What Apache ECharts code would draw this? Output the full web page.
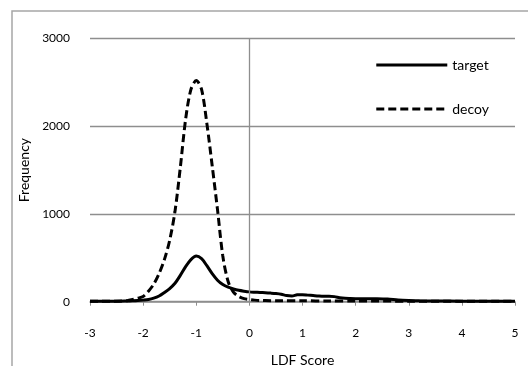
<!DOCTYPE html>
<html><head><meta charset="utf-8">
<script src="https://cdn.jsdelivr.net/npm/echarts@6/dist/echarts.min.js"></script>
<style>html,body{margin:0;padding:0;background:#fff}#c{width:528px;height:366px}</style>
</head><body><div id="c"></div>
<script>
var xTicks = [-3, -2, -1, 0, 1, 2, 3, 4, 5];
var yTicks = [0, 1000, 2000, 3000];
var targetX = [-3.0,-2.5,-2.3,-2.2,-2.1,-2.0,-1.9,-1.8,-1.7,-1.6,-1.5,-1.4,-1.3,-1.2,-1.1,-1.0,-0.9,-0.8,-0.7,-0.6,-0.5,-0.4,-0.3,-0.2,-0.1,0.0,0.1,0.2,0.3,0.4,0.5,0.6,0.7,0.8,0.9,1.0,1.1,1.2,1.3,1.4,1.5,1.6,1.7,1.8,1.9,2.0,2.2,2.4,2.6,2.8,3.0,3.2,3.5,4.0,4.5,5.0];
var targetY = [5,5,8,10,13,18,25,40,65,105,150,210,300,400,480,520,490,410,320,245,195,165,145,130,120,112,108,105,102,98,93,85,70,65,78,80,75,70,65,62,62,58,45,38,36,35,35,34,30,20,14,10,8,6,6,5];
var decoyX = [-3.0,-2.8,-2.6,-2.4,-2.3,-2.2,-2.1,-2.0,-1.9,-1.8,-1.7,-1.6,-1.5,-1.4,-1.3,-1.2,-1.1,-1.0,-0.9,-0.8,-0.7,-0.6,-0.5,-0.4,-0.3,-0.2,-0.1,0.0,0.1,0.2,0.4,0.6,1.0,1.5,2.0,3.0,4.0,5.0];
var decoyY = [5,5,6,8,12,25,40,60,120,200,320,480,700,1030,1530,2080,2420,2520,2420,2030,1550,1050,520,230,110,60,35,25,18,14,12,10,10,8,8,6,5,5];

function pairs(xs, ys){ return xs.map(function(x,i){return [x, ys[i]];}); }

var font = 'Lato';
var grey = '#8e8e8e';
var chart = echarts.init(document.getElementById('c'));
chart.setOption({
  animation: false,
  textStyle: {fontFamily: font},
  grid: {left: 90, right: 13, top: 38.5, bottom: 64.3, containLabel: false, outerBoundsMode: 'none'},
  graphic: [{type:'rect', shape:{x:12, y:11, width:700, height:500}, style:{fill:'none', stroke:'#a6a6a6', lineWidth:1.5}, silent:true}],
  legend: {
    orient: 'vertical', right: 34, top: 53, itemWidth: 71, itemHeight: 14, itemGap: 30,
    textStyle: {fontFamily: font, fontSize: 14, color: '#000'},
    itemStyle: {color: 'rgba(0,0,0,0)', borderWidth: 0, opacity: 0},
    lineStyle: {width: 3},
    data: ['target', 'decoy']
  },
  xAxis: {
    type: 'value', min: xTicks[0], max: xTicks[xTicks.length-1], interval: 1,
    name: 'LDF Score', nameLocation: 'middle', nameGap: 52,
    nameTextStyle: {fontFamily: font, fontSize: 14, color: '#000'},
    axisLine: {show: true, onZero: false, lineStyle: {color: grey, width: 1.5}},
    axisTick: {show: true, length: 4, lineStyle: {color: grey}},
    axisLabel: {margin: 25, fontSize: 12, color: '#000', fontFamily: font},
    splitLine: {show: false}
  },
  yAxis: {
    type: 'value', min: yTicks[0], max: yTicks[yTicks.length-1], interval: 1000,
    name: 'Frequency', nameLocation: 'middle', nameGap: 56,
    nameTextStyle: {fontFamily: font, fontSize: 14, color: '#000'},
    axisLine: {show: false}, axisTick: {show: false},
    axisLabel: {margin: 20, fontSize: 12, color: '#000', fontFamily: font, formatter: function(v){ return String(v); }},
    splitLine: {show: true, lineStyle: {color: grey, width: 1.3}}
  },
  series: [
    {
      name: 'decoy', type: 'line', smooth: 0.3, symbol: 'none', z: 3,
      lineStyle: {color: '#000', width: 3, type: [8, 4]},
      itemStyle: {color: '#000'},
      data: pairs(decoyX, decoyY),
      markLine: {silent: true, symbol: 'none', label: {show: false},
        lineStyle: {color: grey, width: 1.3, type: 'solid'}, data: [{xAxis: 0}]}
    },
    {
      name: 'target', type: 'line', smooth: 0.3, symbol: 'none', z: 4,
      lineStyle: {color: '#000', width: 3},
      itemStyle: {color: '#000'},
      data: pairs(targetX, targetY)
    }
  ]
});
</script></body></html>
